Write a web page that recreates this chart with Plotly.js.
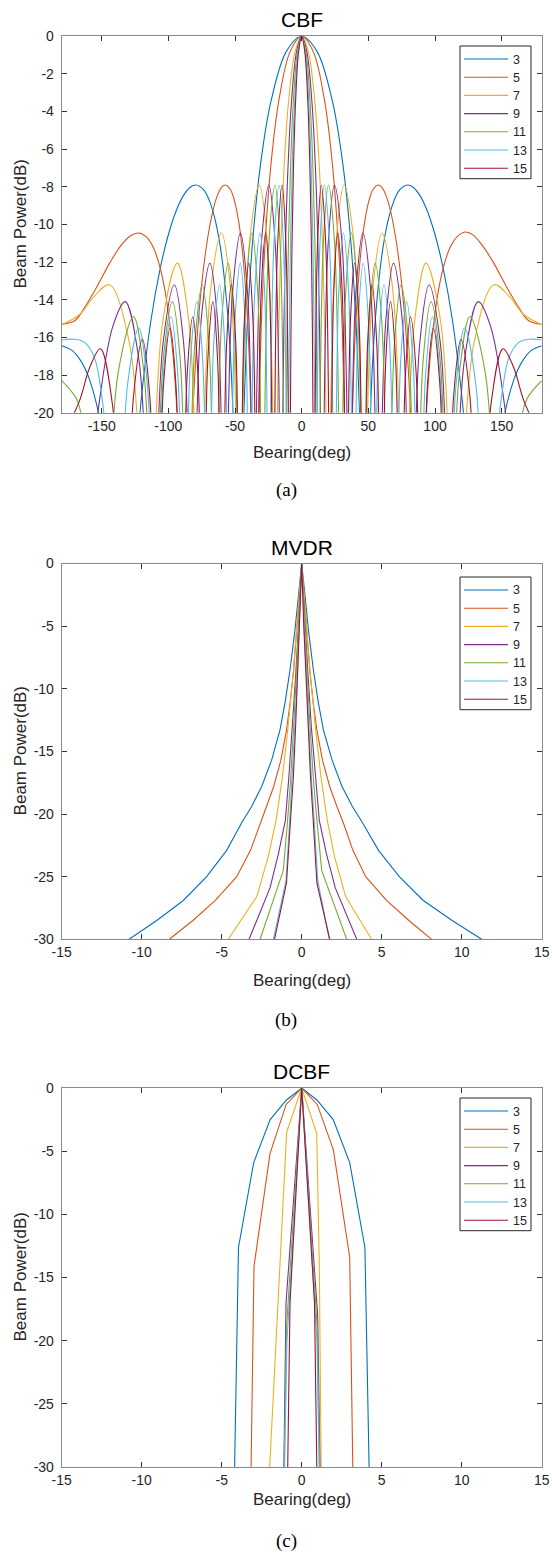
<!DOCTYPE html>
<html>
<head>
<meta charset="utf-8">
<script src="https://cdn.plot.ly/plotly-3.0.1.min.js"></script>
<style>html,body{margin:0;padding:0;background:#fff;}#chart{width:552px;height:1556px;}</style>
</head>
<body>
<div id="chart"></div>
<script>
// ---------- data ----------
const seriesNames = ['3','5','7','9','11','13','15'];
const seriesColors = ['#0072BD','#D95319','#EDB120','#7E2F8E','#77AC30','#4DBEEE','#A2142F'];
const bearingTicksCBF = [-150,-100,-50,0,50,100,150];
const bearingTicksZoom = [-15,-10,-5,0,5,10,15];
const powerTicksCBF = [0,-2,-4,-6,-8,-10,-12,-14,-16,-18,-20];
const powerTicksZoom = [0,-5,-10,-15,-20,-25,-30];

// CBF curves [bearing(deg), beam power(dB)]
const cbf3 = [[-180,-16.44],[-172,-16.7],[-165.2,-17.3],[-159,-18.27],[-150.3,-20.75],[-143.6,-24.4],[-133.87,-30],[-124.1,-22.4],[-120.14,-19.15],[-112.89,-15.01],[-106.26,-12.38],[-100.12,-10.57],[-94.33,-9.31],[-88.85,-8.48],[-83.62,-8.02],[-79.38,-7.9],[-73.74,-8.14],[-69.04,-8.77],[-64.46,-9.89],[-60,-11.7],[-55.64,-14.66],[-53.49,-16.9],[-51.36,-20.3],[-47.26,-30],[-44.05,-21.6],[-40.97,-15.57],[-36.93,-11],[-30.93,-6.83],[-23.07,-3.46],[-11.48,-0.8],[0,0],
[11.48,-0.8],[23.07,-3.46],[30.93,-6.83],[36.93,-11],[40.97,-15.57],[44.05,-21.6],[47.26,-30],[51.36,-20.3],[53.49,-16.9],[55.64,-14.66],[60,-11.7],[64.46,-9.89],[69.04,-8.77],[73.74,-8.14],[79.38,-7.9],[83.62,-8.02],[88.85,-8.48],[94.33,-9.31],[100.12,-10.57],[106.26,-12.38],[112.89,-15.01],[120.14,-19.15],[124.1,-22.4],[133.87,-30],[143.6,-24.4],[150.3,-20.75],[159,-18.27],[165.2,-17.3],[172,-16.7],[180,-16.44]];
const cbf5 = [[-180,-15.3],[-170,-15.1],[-161.86,-14.3],[-154.32,-13.4],[-143.62,-12],[-135.34,-11.1],[-128.32,-10.6],[-122.58,-10.45],[-116.42,-10.66],[-111.18,-11.24],[-106.26,-12.28],[-101.62,-13.9],[-97.18,-16.44],[-95.04,-18.27],[-92.94,-20.75],[-90.88,-24.45],[-87.27,-30],[-82.98,-22.4],[-81.08,-19.15],[-77.36,-15.01],[-73.74,-12.38],[-70.19,-10.57],[-66.73,-9.31],[-63.34,-8.48],[-60,-8.02],[-57.24,-7.9],[-53.49,-8.14],[-50.3,-8.77],[-47.16,-9.89],[-44.05,-11.7],[-40.97,-14.66],[-39.45,-16.9],[-37.93,-20.3],[-34.99,-30],[-32.67,-21.6],[-30.44,-15.57],[-27.48,-11],[-23.07,-6.83],[-17.25,-3.46],[-8.6,-0.8],[0,0],
[8.6,-0.8],[17.25,-3.46],[23.07,-6.83],[27.48,-11],[30.44,-15.57],[32.67,-21.6],[34.99,-30],[37.93,-20.3],[39.45,-16.9],[40.97,-14.66],[44.05,-11.7],[47.16,-9.89],[50.3,-8.77],[53.49,-8.14],[57.24,-7.9],[60,-8.02],[63.34,-8.48],[66.73,-9.31],[70.19,-10.57],[73.74,-12.38],[77.36,-15.01],[81.08,-19.15],[82.98,-22.4],[87.27,-30],[90.88,-24.45],[92.94,-20.75],[95.04,-18.27],[97.18,-16.44],[101.62,-13.9],[106.26,-12.28],[111.18,-11.24],[116.42,-10.66],[122.58,-10.4],[128.32,-10.55],[135.34,-11.1],[143.62,-12],[154.32,-13.4],[161.86,-14.3],[170,-15.1],[180,-15.3]];
const cbf7 = [[-180,-15.33],[-166.3,-14.77],[-156.25,-13.87],[-144.24,-13.2],[-129.5,-16.2],[-120.66,-23.4],[-114.76,-30],[-110.45,-22.25],[-103.99,-15.05],[-93.21,-12.05],[-84.79,-15.05],[-79.73,-22.25],[-76.36,-30],[-73.12,-20.65],[-68.26,-13.45],[-60.15,-10.45],[-53.3,-13.45],[-49.18,-20.65],[-46.44,-30],[-43.51,-18.1],[-39.1,-10.9],[-31.77,-7.9],[-25.78,-10.9],[-22.18,-18.1],[-19.78,-30],[-18.5,-21.6],[-17.25,-15.57],[-15.6,-11],[-13.12,-6.83],[-9.83,-3.46],[-4.91,-0.8],[0,0],
[4.91,-0.8],[9.83,-3.46],[13.12,-6.83],[15.6,-11],[17.25,-15.57],[18.5,-21.6],[19.78,-30],[22.18,-18.1],[25.78,-10.9],[31.77,-7.9],[39.1,-10.9],[43.51,-18.1],[46.44,-30],[49.18,-20.65],[53.3,-13.45],[60.15,-10.45],[68.26,-13.45],[73.12,-20.65],[76.36,-30],[79.73,-22.25],[84.79,-15.05],[93.21,-12.05],[103.99,-15.05],[110.45,-22.25],[114.76,-30],[120.66,-23.4],[129.5,-16.2],[144.24,-13.2],[156.25,-13.87],[166.3,-14.77],[180,-15.33]];
const cbf9 = [[-180,-38],[-162.9,-26.6],[-152.9,-20],[-141.6,-15.4],[-132.42,-14.1],[-122.26,-17.1],[-116.16,-24.3],[-112.1,-30],[-108.8,-23.4],[-103.8,-16.2],[-95.5,-13.2],[-88.68,-16.2],[-84.59,-23.4],[-81.86,-30],[-79.26,-22.25],[-75.35,-15.05],[-68.84,-12.05],[-63.16,-15.05],[-59.75,-22.25],[-57.48,-30],[-55.16,-20.65],[-51.68,-13.45],[-45.88,-10.45],[-40.8,-13.45],[-37.75,-20.65],[-35.72,-30],[-33.49,-18.1],[-30.15,-10.9],[-24.58,-7.9],[-19.97,-10.9],[-17.2,-18.1],[-15.35,-30],[-14.36,-21.6],[-13.4,-15.57],[-12.12,-11],[-10.2,-6.83],[-7.64,-3.46],[-3.82,-0.8],[0,0],
[3.82,-0.8],[7.64,-3.46],[10.2,-6.83],[12.12,-11],[13.4,-15.57],[14.36,-21.6],[15.35,-30],[17.2,-18.1],[19.97,-10.9],[24.58,-7.9],[30.15,-10.9],[33.49,-18.1],[35.72,-30],[37.75,-20.65],[40.8,-13.45],[45.88,-10.45],[51.68,-13.45],[55.16,-20.65],[57.48,-30],[59.75,-22.25],[63.16,-15.05],[68.84,-12.05],[75.35,-15.05],[79.26,-22.25],[81.86,-30],[84.59,-23.4],[88.68,-16.2],[95.5,-13.2],[103.8,-16.2],[108.8,-23.4],[112.1,-30],[116.16,-24.3],[122.26,-17.1],[132.42,-14.1],[141.6,-15.4],[152.9,-20],[162.9,-26.6],[180,-38]];
const cbf11 = [[-180,-18.3],[-169.06,-19.25],[-164.5,-20.4],[-158.1,-23.7],[-149.27,-30],[-144.64,-25.1],[-137.7,-17.9],[-126.14,-14.9],[-118.3,-17.9],[-113.6,-25.1],[-110.46,-30],[-107.76,-24.3],[-103.7,-17.1],[-96.94,-14.1],[-91.21,-17.1],[-87.77,-24.3],[-85.48,-30],[-83.29,-23.4],[-80.01,-16.2],[-74.54,-13.2],[-69.68,-16.2],[-66.76,-23.4],[-64.82,-30],[-62.87,-22.25],[-59.96,-15.05],[-55.09,-12.05],[-50.71,-15.05],[-48.08,-22.25],[-46.33,-30],[-44.5,-20.65],[-41.76,-13.45],[-37.19,-10.45],[-33.13,-13.45],[-30.69,-20.65],[-29.06,-30],[-27.26,-18.1],[-24.56,-10.9],[-20.06,-7.9],[-16.31,-10.9],[-14.05,-18.1],[-12.55,-30],[-11.74,-21.6],[-10.95,-15.57],[-9.91,-11],[-8.341,-6.83],[-6.254,-3.46],[-3.125,-0.8],[0,0],
[3.125,-0.8],[6.254,-3.46],[8.341,-6.83],[9.91,-11],[10.95,-15.57],[11.74,-21.6],[12.55,-30],[14.05,-18.1],[16.31,-10.9],[20.06,-7.9],[24.56,-10.9],[27.26,-18.1],[29.06,-30],[30.69,-20.65],[33.13,-13.45],[37.19,-10.45],[41.76,-13.45],[44.5,-20.65],[46.33,-30],[48.08,-22.25],[50.71,-15.05],[55.09,-12.05],[59.96,-15.05],[62.87,-22.25],[64.82,-30],[66.76,-23.4],[69.68,-16.2],[74.54,-13.2],[80.01,-16.2],[83.29,-23.4],[85.48,-30],[87.77,-24.3],[91.21,-17.1],[96.94,-14.1],[103.7,-17.1],[107.76,-24.3],[110.46,-30],[113.6,-25.1],[118.3,-17.9],[126.14,-14.9],[137.7,-17.9],[144.64,-25.1],[149.27,-30],[158.1,-23.7],[164.5,-20.4],[169.06,-19.25],[180,-18.3]];
const cbf13 = [[-180,-16.14],[-170.14,-16.1],[-162.6,-16.28],[-155.3,-17.1],[-149.8,-19.2],[-146.5,-21.5],[-142.2,-28.1],[-138.98,-30],[-135.62,-25.7],[-130.58,-18.5],[-122.18,-15.5],[-115.76,-18.5],[-111.9,-25.7],[-109.34,-30],[-107.07,-25.1],[-103.65,-17.9],[-97.96,-14.9],[-93,-17.9],[-90.02,-25.1],[-88.04,-30],[-86.16,-24.3],[-83.33,-17.1],[-78.62,-14.1],[-74.36,-17.1],[-71.8,-24.3],[-70.1,-30],[-68.41,-23.4],[-65.88,-16.2],[-61.66,-13.2],[-57.8,-16.2],[-55.48,-23.4],[-53.93,-30],[-52.36,-22.25],[-50,-15.05],[-46.07,-12.05],[-42.48,-15.05],[-40.32,-22.25],[-38.88,-30],[-37.4,-20.65],[-35.09,-13.45],[-31.3,-10.45],[-27.9,-13.45],[-25.87,-20.65],[-24.51,-30],[-23,-18.1],[-20.73,-10.9],[-16.95,-7.9],[-13.78,-10.9],[-11.88,-18.1],[-10.61,-30],[-9.93,-21.6],[-9.265,-15.57],[-8.382,-11],[-7.056,-6.83],[-5.29,-3.46],[-2.645,-0.8],[0,0],
[2.645,-0.8],[5.29,-3.46],[7.056,-6.83],[8.382,-11],[9.265,-15.57],[9.93,-21.6],[10.61,-30],[11.88,-18.1],[13.78,-10.9],[16.95,-7.9],[20.73,-10.9],[23,-18.1],[24.51,-30],[25.87,-20.65],[27.9,-13.45],[31.3,-10.45],[35.09,-13.45],[37.4,-20.65],[38.88,-30],[40.32,-22.25],[42.48,-15.05],[46.07,-12.05],[50,-15.05],[52.36,-22.25],[53.93,-30],[55.48,-23.4],[57.8,-16.2],[61.66,-13.2],[65.88,-16.2],[68.41,-23.4],[70.1,-30],[71.8,-24.3],[74.36,-17.1],[78.62,-14.1],[83.33,-17.1],[86.16,-24.3],[88.04,-30],[90.02,-25.1],[93,-17.9],[97.96,-14.9],[103.65,-17.9],[107.07,-25.1],[109.34,-30],[111.9,-25.7],[115.76,-18.5],[122.18,-15.5],[130.58,-18.5],[135.62,-25.7],[138.98,-30],[142.2,-28.1],[146.5,-21.5],[149.8,-19.2],[155.3,-17.1],[162.6,-16.28],[170.14,-16.1],[180,-16.14]];
const cbf15 = [[-180,-21.4],[-166.8,-19.4],[-159,-17.6],[-151.02,-16.6],[-141.9,-19.6],[-136.43,-26.8],[-132.78,-30],[-130.11,-26.3],[-126.1,-19.1],[-119.42,-16.1],[-113.97,-19.1],[-110.7,-26.3],[-108.52,-30],[-106.56,-25.7],[-103.61,-18.5],[-98.7,-15.5],[-94.35,-18.5],[-91.74,-25.7],[-90,-30],[-88.33,-25.1],[-85.84,-17.9],[-81.67,-14.9],[-77.88,-17.9],[-75.6,-25.1],[-74.08,-30],[-72.58,-24.3],[-70.34,-17.1],[-66.59,-14.1],[-63.14,-17.1],[-61.07,-24.3],[-59.69,-30],[-58.3,-23.4],[-56.21,-16.2],[-52.73,-13.2],[-49.51,-16.2],[-47.58,-23.4],[-46.29,-30],[-44.96,-22.25],[-42.97,-15.05],[-39.64,-12.05],[-36.59,-15.05],[-34.76,-22.25],[-33.54,-30],[-32.24,-20.65],[-30.3,-13.45],[-27.05,-10.45],[-24.13,-13.45],[-22.38,-20.65],[-21.21,-30],[-19.9,-18.1],[-17.94,-10.9],[-14.67,-7.9],[-11.94,-10.9],[-10.29,-18.1],[-9.2,-30],[-8.6,-21.6],[-8.027,-15.57],[-7.262,-11],[-6.115,-6.83],[-4.585,-3.46],[-2.292,-0.8],[0,0],
[2.292,-0.8],[4.585,-3.46],[6.115,-6.83],[7.262,-11],[8.027,-15.57],[8.6,-21.6],[9.2,-30],[10.29,-18.1],[11.94,-10.9],[14.67,-7.9],[17.94,-10.9],[19.9,-18.1],[21.21,-30],[22.38,-20.65],[24.13,-13.45],[27.05,-10.45],[30.3,-13.45],[32.24,-20.65],[33.54,-30],[34.76,-22.25],[36.59,-15.05],[39.64,-12.05],[42.97,-15.05],[44.96,-22.25],[46.29,-30],[47.58,-23.4],[49.51,-16.2],[52.73,-13.2],[56.21,-16.2],[58.3,-23.4],[59.69,-30],[61.07,-24.3],[63.14,-17.1],[66.59,-14.1],[70.34,-17.1],[72.58,-24.3],[74.08,-30],[75.6,-25.1],[77.88,-17.9],[81.67,-14.9],[85.84,-17.9],[88.33,-25.1],[90,-30],[91.74,-25.7],[94.35,-18.5],[98.7,-15.5],[103.61,-18.5],[106.56,-25.7],[108.52,-30],[110.7,-26.3],[113.97,-19.1],[119.42,-16.1],[126.1,-19.1],[130.11,-26.3],[132.78,-30],[136.43,-26.8],[141.9,-19.6],[151.02,-16.6],[159,-17.6],[166.8,-19.4],[180,-21.4]];

// MVDR curves
const mvdr3 = [[-10.79,-30],[-9.06,-28.5],[-7.4,-26.9],[-5.94,-25],[-4.69,-22.9],[-3.75,-20.7],[-3.13,-19.4],[-2.5,-17.8],[-1.88,-15.7],[-1.36,-13.3],[-1.04,-11.1],[-0.73,-8.5],[-0.42,-5.3],[-0.21,-2.6],[0,0],[0.21,-2.6],[0.42,-5.3],[0.73,-8.5],[1.04,-11.1],[1.36,-13.3],[1.9,-15.7],[2.52,-17.8],[3.17,-19.4],[3.8,-20.7],[4.8,-22.9],[6.1,-25],[7.6,-26.9],[9.4,-28.5],[11.25,-30]];
const mvdr5 = [[-8.27,-30],[-6.8,-28.5],[-5.4,-26.9],[-4.06,-25],[-3.2,-22.9],[-2.6,-20.7],[-2.2,-19.4],[-1.75,-17.8],[-1.3,-15.7],[-0.95,-13.3],[-0.72,-11.1],[-0.5,-8.5],[-0.3,-5.3],[-0.15,-2.6],[0,0],[0.15,-2.6],[0.3,-5.3],[0.5,-8.5],[0.72,-11.1],[0.95,-13.3],[1.3,-15.7],[1.75,-17.8],[2.2,-19.4],[2.6,-20.7],[3.2,-22.9],[4.0,-25],[5.3,-26.9],[6.7,-28.5],[8.12,-30]];
const mvdr7 = [[-4.59,-30],[-2.81,-26.6],[-2.09,-23.4],[-1.6,-20.5],[-1.2,-17],[-0.85,-13],[-0.55,-9],[-0.3,-5],[-0.12,-2],[0,0],[0.12,-2],[0.3,-5],[0.55,-9],[0.85,-13],[1.2,-17],[1.6,-20.5],[2.05,-23.4],[2.75,-26.6],[4.37,-30]];
const mvdr9 = [[-3.29,-30],[-1.98,-25.9],[-1.46,-23.2],[-1.02,-20.5],[-0.8,-17],[-0.58,-13],[-0.38,-9],[-0.2,-5],[-0.08,-2],[0,0],[0.08,-2],[0.2,-5],[0.4,-9],[0.6,-13],[0.85,-17],[1.1,-20.5],[1.55,-23.2],[2.1,-25.9],[3.44,-30]];
const mvdr11 = [[-2.6,-30],[-1.15,-24.5],[-0.88,-20.5],[-0.68,-17],[-0.5,-13],[-0.33,-9],[-0.17,-5],[-0.07,-2],[0,0],[0.07,-2],[0.17,-5],[0.35,-9],[0.52,-13],[0.72,-17],[0.95,-20.5],[1.25,-24.5],[2.81,-30]];
const mvdr13 = [[-1.77,-30],[-0.98,-25.3],[-0.75,-20.5],[-0.58,-17],[-0.43,-13],[-0.28,-9],[-0.15,-5],[0,0],[0.15,-5],[0.3,-9],[0.45,-13],[0.6,-17],[0.78,-20.5],[1.0,-25.3],[1.73,-30]];
const mvdr15 = [[-1.7,-30],[-0.95,-25.5],[-0.7,-20.5],[-0.52,-17],[-0.38,-13],[-0.25,-9],[-0.13,-5],[0,0],[0.13,-5],[0.26,-9],[0.4,-13],[0.55,-17],[0.72,-20.5],[0.95,-25.5],[1.75,-30]];

// DCBF curves
const dcbf3 = [[-4.2,-30.5],[-3.95,-12.6],[-3.0,-5.9],[-1.97,-2.5],[-0.95,-0.95],[0,0],[0.95,-0.95],[1.97,-2.5],[3.0,-5.9],[3.95,-12.6],[4.22,-30.5]];
const dcbf5 = [[-3.17,-30.5],[-2.98,-14.1],[-1.98,-5.2],[-0.97,-1.3],[0,0],[0.97,-1.3],[1.98,-4.9],[3.0,-13.4],[3.2,-30.5]];
const dcbf7 = [[-2.02,-30.5],[-0.94,-3.5],[0,0],[0.94,-3.6],[1.1,-14],[1.22,-30.5]];
const dcbf9 = [[-1.12,-30.5],[-0.98,-17],[0,0],[1.0,-18],[1.15,-30.5]];
const dcbf11 = [[-1.1,-30.5],[-0.95,-19],[0,0],[0.97,-19],[1.12,-30.5]];
const dcbf13 = [[-1.08,-30.5],[-0.92,-20],[0,0],[0.95,-20],[1.1,-30.5]];
const dcbf15 = [[-0.88,-30.5],[-0.73,-17],[0,0],[0.8,-17],[0.95,-30.5]];

// ---------- layout helpers ----------
const W = 552, H = 1556;
const px = v => v / W;
const py = v => 1 - v / H;
const plotL = 61.7, plotR = 541.7, plotC = (plotL + plotR) / 2;
const panels = [
  {top: 36.3, bottom: 412.7, legTop: 46, legFirst: 59},
  {top: 563.5, bottom: 939.3, legTop: 577, legFirst: 590},
  {top: 1088, bottom: 1467, legTop: 1098, legFirst: 1111}
];

function makeTraces(list, xa, ya, shape) {
  return list.map((pts, i) => ({
    type: 'scatter', mode: 'lines',
    x: pts.map(p => p[0]), y: pts.map(p => p[1]),
    name: seriesNames[i], showlegend: false,
    line: {color: seriesColors[i], width: 1.1, shape: shape, smoothing: 1},
    xaxis: xa, yaxis: ya, hoverinfo: 'skip'
  }));
}

const data = [].concat(
  makeTraces([cbf3, cbf5, cbf7, cbf9, cbf11, cbf13, cbf15], 'x', 'y', 'spline'),
  makeTraces([mvdr3, mvdr5, mvdr7, mvdr9, mvdr11, mvdr13, mvdr15], 'x2', 'y2', 'linear'),
  makeTraces([dcbf3, dcbf5, dcbf7, dcbf9, dcbf11, dcbf13, dcbf15], 'x3', 'y3', 'linear')
);

const tickFont = {family: 'Liberation Sans, Arial, sans-serif', size: 14, color: '#262626'};
function xAxis(range, ticks, anchor) {
  return {domain: [px(plotL), px(plotR)], range: range, tickvals: ticks, ticktext: ticks.map(String),
    ticks: 'inside', ticklen: 5, tickcolor: '#333', showline: true, linecolor: '#8a8a8a', linewidth: 1,
    mirror: 'ticks', showgrid: false, zeroline: false, anchor: anchor, tickfont: tickFont, fixedrange: true};
}
function yAxis(range, ticks, p, anchor) {
  return {domain: [py(p.bottom), py(p.top)], range: range, tickvals: ticks, ticktext: ticks.map(String),
    ticks: 'inside', ticklen: 5, tickcolor: '#333', showline: true, linecolor: '#8a8a8a', linewidth: 1,
    mirror: 'ticks', showgrid: false, zeroline: false, anchor: anchor, tickfont: tickFont, fixedrange: true,
    ticklabelstandoff: 4};
}

const titles = ['CBF', 'MVDR', 'DCBF'];
const titleY = [19.4, 547.5, 1071.7];
const xlabelY = [453, 980, 1499];
const captionY = [490, 1020, 1541];
const captions = ['(a)', '(b)', '(c)'];
const annotations = [];
const shapes = [];
const legRowGap = 18.2, legLeft = 460, legRight = 531;
panels.forEach((p, i) => {
  annotations.push({text: titles[i], xref: 'paper', yref: 'paper', x: px(plotC), y: py(titleY[i]),
    xanchor: 'center', yanchor: 'middle', showarrow: false,
    font: {family: 'Liberation Sans, Arial, sans-serif', size: 21, color: '#000'}});
  annotations.push({text: 'Bearing(deg)', xref: 'paper', yref: 'paper', x: px(plotC), y: py(xlabelY[i]),
    xanchor: 'center', yanchor: 'middle', showarrow: false,
    font: {family: 'Liberation Sans, Arial, sans-serif', size: 17, color: '#262626'}});
  annotations.push({text: 'Beam Power(dB)', xref: 'paper', yref: 'paper', x: px(20), y: py((p.top + p.bottom) / 2),
    xanchor: 'center', yanchor: 'middle', textangle: -90, showarrow: false,
    font: {family: 'Liberation Sans, Arial, sans-serif', size: 17, color: '#262626'}});
  annotations.push({text: captions[i], xref: 'paper', yref: 'paper', x: px(286), y: py(captionY[i]),
    xanchor: 'center', yanchor: 'middle', showarrow: false,
    font: {family: 'Liberation Serif, Times New Roman, serif', size: 19, color: '#000'}});
  // legend box (MATLAB style)
  const legBottom = p.legFirst + 6 * legRowGap + 10.5;
  shapes.push({type: 'rect', xref: 'paper', yref: 'paper', x0: px(legLeft), x1: px(legRight),
    y0: py(legBottom), y1: py(p.legTop), line: {color: '#262626', width: 1}, fillcolor: '#ffffff', layer: 'above'});
  seriesNames.forEach((nm, k) => {
    const yy = p.legFirst + k * legRowGap;
    shapes.push({type: 'line', xref: 'paper', yref: 'paper', x0: px(464), x1: px(508), y0: py(yy), y1: py(yy),
      line: {color: seriesColors[k], width: 1.1}, layer: 'above'});
    annotations.push({text: nm, xref: 'paper', yref: 'paper', x: px(510.5), y: py(yy + 0.5),
      xanchor: 'left', yanchor: 'middle', showarrow: false,
      font: {family: 'Liberation Sans, Arial, sans-serif', size: 12.5, color: '#262626'}});
  });
});

const layout = {
  width: W, height: H, margin: {l: 0, r: 0, t: 0, b: 0},
  paper_bgcolor: '#ffffff', plot_bgcolor: '#ffffff', showlegend: false,
  font: {family: 'Liberation Sans, Arial, sans-serif', color: '#262626'},
  xaxis: xAxis([-180, 180], bearingTicksCBF, 'y'),
  yaxis: yAxis([-20, 0], powerTicksCBF, panels[0], 'x'),
  xaxis2: xAxis([-15, 15], bearingTicksZoom, 'y2'),
  yaxis2: yAxis([-30, 0], powerTicksZoom, panels[1], 'x2'),
  xaxis3: xAxis([-15, 15], bearingTicksZoom, 'y3'),
  yaxis3: yAxis([-30, 0], powerTicksZoom, panels[2], 'x3'),
  shapes: shapes,
  annotations: annotations
};

Plotly.newPlot('chart', data, layout, {staticPlot: true, displayModeBar: false});
</script>
</body>
</html>
